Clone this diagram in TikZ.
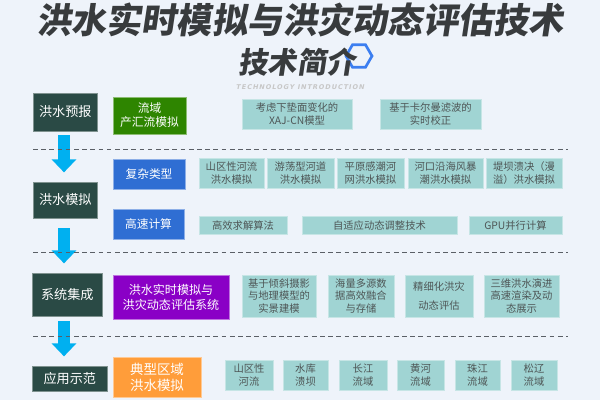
\documentclass[tikz,border=0pt]{standalone}
\usepackage{fontspec}
\setmainfont{Noto Sans CJK SC}
\newfontfamily\titlefont[FakeSlant=0.15]{Noto Sans CJK SC}
\newfontfamily\techfont[LetterSpace=14,FakeSlant=0.2]{DejaVu Sans}
\usetikzlibrary{arrows.meta, positioning, shapes.geometric}
\definecolor{bgPale}{HTML}{EEF3FA}
\definecolor{titleGray}{HTML}{383B3D}
\definecolor{stageDark}{HTML}{2A4A45}
\definecolor{catGreen}{HTML}{2E8500}
\definecolor{catBlue}{HTML}{2F6ED3}
\definecolor{catPurple}{HTML}{8A00C6}
\definecolor{catOrange}{HTML}{FF9D3A}
\definecolor{itemTeal}{HTML}{A0D4D3}
\definecolor{itemText}{HTML}{4E5656}
\definecolor{flowBlue}{HTML}{00B0F0}
\definecolor{hexBlue}{HTML}{3C7EF0}
\definecolor{sepGray}{HTML}{5A5F66}

\begin{document}
\begin{tikzpicture}[x=0.3mm, y=-0.3mm,
    sz/.style 2 args={minimum width=#1*0.3mm, minimum height=#2*0.3mm},
    stage/.style={rectangle, fill=stageDark, draw=stageDark!60!white, line width=0.5pt,
                  text=white, font=\fontsize{11.2}{13}\selectfont, inner sep=0pt, anchor=west},
    cat/.style={rectangle, fill=#1, draw=#1!55!white, line width=0.6pt, text=white,
                font=\fontsize{10}{12}\selectfont, align=center, inner sep=0pt},
    item/.style={rectangle, fill=itemTeal, draw=itemTeal!60!white, line width=0.5pt,
                 text=itemText, font=\fontsize{8.8}{10.6}\selectfont, align=center, inner sep=0pt},
    flow/.style={draw=flowBlue, line width=3.6mm, shorten >=2.8mm,
                 -{Triangle[width=7.2mm, length=3.9mm]}},
    sep/.style={draw=sepGray, line width=0.7pt, dash pattern=on 4pt off 3pt},
  ]
    % background and page frame
    \fill[bgPale] (0,0) rectangle (600,400);
    \useasboundingbox (0,0) rectangle (600,400);

    % heading
    \node[regular polygon, regular polygon sides=6, draw=hexBlue, line width=0.8mm,
          minimum size=7.8mm] (hex) at (359,56) {};
    \node[font=\titlefont\bfseries\fontsize{30}{34}\selectfont, text=titleGray] (title) at (300,20)
      {洪水实时模拟与洪灾动态评估技术};
    \node[font=\titlefont\bfseries\fontsize{25}{28}\selectfont, text=titleGray] (subtitle) at (297,62)
      {技术简介};
    \node[font=\techfont\bfseries\fontsize{5.6}{7}\selectfont, text=black!22] (tech) at (300,87)
      {TECHNOLOGY INTRODUCTION};

    % stages (left column)
    \node[stage, sz={64}{38}] (yubao)   at (33,112)    {洪水预报};
    \node[stage, sz={64}{36}] (moni)    at (33,200)    {洪水模拟};
    \node[stage, sz={70}{43}] (jicheng) at (32,294.5)  {系统集成};
    \node[stage, sz={75}{25}] (shifan)  at (32,378.5)  {应用示范};

    \coordinate (colx) at (64,0);
    \draw[flow, shorten <=1.2mm] (yubao.south -| colx) -- (moni.north -| colx);
    \draw[flow, shorten <=3mm]   (moni.south -| colx) -- (jicheng.north -| colx);
    \draw[flow, shorten <=1.5mm] (jicheng.south -| colx) -- (shifan.north -| colx);

    % separators
    \draw[sep] (33,149) -- (568,149);
    \draw[sep] (33,252) -- (568,252);
    \draw[sep] (33,336) -- (568,336);

    % categories
    \node[cat=catGreen,  sz={73}{37}]  (liuyu)   at (149.5,115.5) {流域\\产汇流模拟};
    \node[cat=catBlue,   sz={72}{30}]  (fuza)    at (149,174)     {复杂类型};
    \node[cat=catBlue,   sz={71}{30}]  (gaosu)   at (148.5,224)   {高速计算};
    \node[cat=catPurple, sz={116}{44}, font=\fontsize{10.3}{13}\selectfont] (xitong) at (171,297)
      {洪水实时模拟与\\洪灾动态评估系统};
    \node[cat=catOrange, sz={88}{40},  font=\fontsize{11.5}{13.6}\selectfont] (dianxing) at (157,377)
      {典型区域\\洪水模拟};

    % forecast items
    \node[item, sz={110}{30}] (xaj)    at (297,114)   {考虑下垫面变化的\\XAJ-CN模型};
    \node[item, sz={101}{30}] (kalman) at (430.5,114) {基于卡尔曼滤波的\\实时校正};

    % simulation types
    \node[item, sz={65}{30}] (shanqu)  at (231.5,173) {山区性河流\\洪水模拟};
    \node[item, sz={67}{30}] (youdang) at (300.5,173) {游荡型河道\\洪水模拟};
    \node[item, sz={67}{30}] (pingyuan) at (370.5,173) {平原感潮河\\网洪水模拟};
    \node[item, sz={75}{30}] (hekou)   at (445.5,173) {河口沿海风暴\\潮洪水模拟};
    \node[item, sz={76}{30}] (dba)     at (524,173)   {堤坝溃决（漫\\溢）洪水模拟};

    % high speed computing
    \node[item, sz={88}{18}]  (qiujie)  at (243,225.5)   {高效求解算法};
    \node[item, sz={155}{18}] (zishiy)  at (379.5,225.5) {自适应动态调整技术};
    \node[item, sz={93}{18}]  (gpu)     at (515.5,225.5) {GPU并行计算};

    % system integration
    \node[item, sz={74}{42}] (shijing)  at (279,296)   {基于倾斜摄影\\与地理模型的\\实景建模};
    \node[item, sz={66}{42}] (ronghe)   at (361,296)   {海量多源数\\据高效融合\\与存储};
    \node[item, sz={68}{42}] (pinggu)   at (439,296)   {精细化洪灾\\[5pt]动态评估};
    \node[item, sz={75}{42}] (sanwei)   at (521.5,296) {三维洪水演进\\高速渲染及动\\态展示};

    % demonstration regions
    \node[item, sz={48}{30}] (shanhe)   at (249,375)   {山区性\\河流};
    \node[item, sz={45}{30}] (shuiku)   at (305.5,375) {水库\\溃坝};
    \node[item, sz={48}{30}] (changj)   at (363,375)   {长江\\流域};
    \node[item, sz={47}{30}] (huangh)   at (420.5,375) {黄河\\流域};
    \node[item, sz={45}{30}] (zhuj)     at (477.5,375) {珠江\\流域};
    \node[item, sz={46}{30}] (songl)    at (534,375)   {松辽\\流域};
  \end{tikzpicture}
\end{document}
